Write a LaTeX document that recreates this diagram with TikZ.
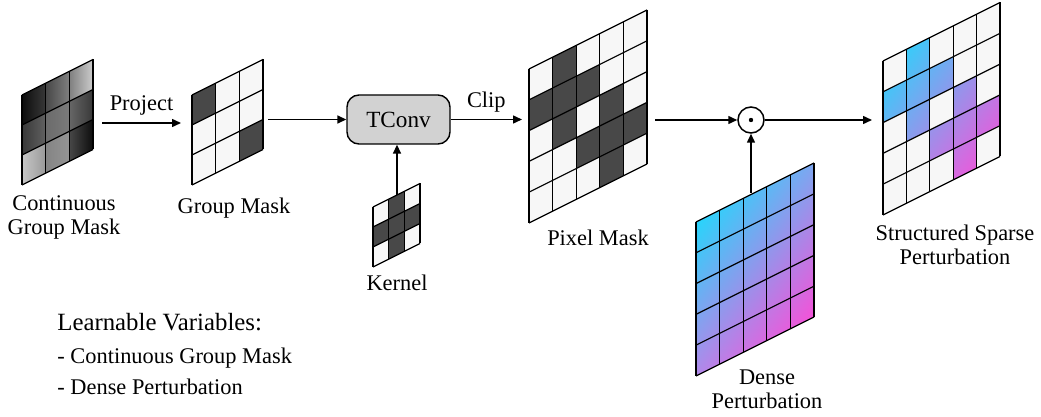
\documentclass[tikz,border=0pt]{standalone}
\usepackage{fontspec}
\setmainfont{Liberation Serif}
\usetikzlibrary{arrows.meta,positioning,shadings}

\definecolor{maskdark}{HTML}{484848}
\definecolor{masklight}{HTML}{F7F7F7}
\definecolor{convgray}{HTML}{D2D2D2}
\definecolor{pertUL}{RGB}{40,212,251}
\definecolor{pertUR}{RGB}{126,166,240}
\definecolor{pertLL}{RGB}{178,136,233}
\definecolor{pertLR}{RGB}{244,82,216}

\tikzset{
  skew/.style n args={4}{shift={(#1,#2)},x={(#3*0.5pt,#3*0.25pt)},y={(0pt,-#4*0.5pt)}},
  gridline/.style={draw=black,line width=0.6pt},
  pertshade/.style={upper left=pertUL,upper right=pertUR,lower left=pertLL,lower right=pertLR},
  flow/.style={->,line width=0.75pt},
  gridtext/.style={font=\fontsize{11.2}{12}\selectfont,align=center,inner sep=0pt},
  convbox/.style={draw,fill=convgray,rounded corners=6pt,line width=0.7pt,
    minimum width=51.5pt,minimum height=24.5pt,font=\fontsize{11.6}{13}\selectfont},
  listtext/.style={font=\fontsize{11.2}{13}\selectfont,anchor=base west,inner sep=0pt}
}

\begin{document}
\begin{tikzpicture}[x=0.5pt,y=-0.5pt,>={Triangle[length=4.5pt,width=4pt]}]
  \useasboundingbox (0,0) rectangle (1041,417);

  % continuous group mask
  \begin{scope}[skew={22}{95}{23.67}{30}]
    \foreach \c/\r/\ca/\cb in {0/0/black!95/black!78, 1/0/black!72/black!50,
      2/0/black!50/black!20, 0/1/black!78/black!62, 1/1/black!58/black!52,
      2/1/black!60/black!78, 0/2/black!22/black!40, 1/2/black!48/black!42,
      2/2/black!72/black!95}
      \shade[left color=\ca,right color=\cb] (\c,\r) -- ++(1,0) -- ++(0,1) -- ++(-1,0) -- cycle;
    \foreach \i in {0,...,3} {
      \draw[gridline] (\i,0) -- (\i,3);
      \draw[gridline] (0,\i) -- (3,\i);
    }
  \end{scope}

  % group mask
  \begin{scope}[skew={192}{95}{23.67}{30}]
    \fill[masklight] (0,0) -- (3,0) -- (3,3) -- (0,3) -- cycle;
    \foreach \c/\r in {0/0,2/2}
      \fill[maskdark] (\c,\r) -- ++(1,0) -- ++(0,1) -- ++(-1,0) -- cycle;
    \foreach \i in {0,...,3} {
      \draw[gridline] (\i,0) -- (\i,3);
      \draw[gridline] (0,\i) -- (3,\i);
    }
  \end{scope}

  % kernel
  \begin{scope}[skew={373}{207}{15.67}{20}]
    \fill[masklight] (0,0) -- (3,0) -- (3,3) -- (0,3) -- cycle;
    \foreach \c/\r in {1/0,0/1,1/1,2/1,1/2}
      \fill[maskdark] (\c,\r) -- ++(1,0) -- ++(0,1) -- ++(-1,0) -- cycle;
    \foreach \i in {0,...,3} {
      \draw[gridline] (\i,0) -- (\i,3);
      \draw[gridline] (0,\i) -- (3,\i);
    }
  \end{scope}

  % pixel mask
  \begin{scope}[skew={529}{69}{23.6}{30.8}]
    \fill[masklight] (0,0) -- (5,0) -- (5,5) -- (0,5) -- cycle;
    \foreach \c/\r in {1/0,0/1,1/1,2/1,1/2,3/2,2/3,3/3,4/3,3/4}
      \fill[maskdark] (\c,\r) -- ++(1,0) -- ++(0,1) -- ++(-1,0) -- cycle;
    \foreach \i in {0,...,5} {
      \draw[gridline] (\i,0) -- (\i,5);
      \draw[gridline] (0,\i) -- (5,\i);
    }
  \end{scope}

  % colour fields of both perturbations (drawn upright, then slanted)
  \begin{scope}[transform canvas={yslant=0.5}]
    \shade[pertshade] (696,570) rectangle (814,724);
    \shade[pertshade] (883,502.5) rectangle (1000,656.5);
  \end{scope}

  % dense perturbation
  \begin{scope}[skew={696}{222}{23.6}{30.8}]
    \foreach \i in {0,...,5} {
      \draw[gridline] (\i,0) -- (\i,5);
      \draw[gridline] (0,\i) -- (5,\i);
    }
  \end{scope}

  % structured sparse perturbation
  \begin{scope}[skew={883}{61}{23.4}{30.8}]
    \foreach \c/\r in {0/0,2/0,3/0,4/0,3/1,4/1,0/2,2/2,4/2,0/3,1/3,0/4,1/4,2/4,4/4}
      \fill[masklight] (\c,\r) -- ++(1,0) -- ++(0,1) -- ++(-1,0) -- cycle;
    \foreach \i in {0,...,5} {
      \draw[gridline] (\i,0) -- (\i,5);
      \draw[gridline] (0,\i) -- (5,\i);
    }
  \end{scope}

  % blocks
  \node[convbox] (tconv) at (398.5,119.5) {TConv};
  \node[circle,draw,line width=0.75pt,minimum size=13pt,inner sep=0pt] (mult) at (751,120) {};
  \fill (mult.center) circle (1.1pt);

  \coordinate (cgm-out) at (102,123);
  \coordinate (gm-in) at (181,123);
  \coordinate (gm-out) at (268,119.5);
  \coordinate (pm-in) at (522,119.5);
  \coordinate (k-top) at (397,195);
  \coordinate (pm-out) at (655,120);
  \coordinate (dp-top) at (751,193);
  \coordinate (ssp-in) at (872,120);

  \draw[flow] (cgm-out) -- node[above,font=\fontsize{11.2}{12}\selectfont] {Project} (gm-in);
  \draw[flow] (gm-out) -- (tconv);
  \draw[flow] (tconv) -- node[above,font=\fontsize{11.2}{12}\selectfont] {Clip} (pm-in);
  \draw[flow] (k-top) -- (k-top |- tconv.south);
  \draw[flow] (pm-out) -- (mult);
  \draw[flow] (dp-top) -- (mult);
  \draw[flow] (mult) -- (ssp-in);

  % captions
  \node[gridtext] (cgm-label) at (64,217) {Continuous\\Group Mask};
  \node[gridtext] (gm-label) at (234,208) {Group Mask};
  \node[gridtext] (k-label) at (397,283) {Kernel};
  \node[gridtext] (pm-label) at (598,238) {Pixel Mask};
  \node[gridtext] (dp-label) at (767,389) {Dense\\Perturbation};
  \node[gridtext] (ssp-label) at (955,245) {Structured Sparse\\Perturbation};

  \node[listtext,font=\fontsize{12.4}{14}\selectfont] (learn-head) at (57,331) {Learnable Variables:};
  \node[listtext] (learn-a) at (57,364) {- Continuous Group Mask};
  \node[listtext] (learn-b) at (57,394) {- Dense Perturbation};
\end{tikzpicture}
\end{document}
